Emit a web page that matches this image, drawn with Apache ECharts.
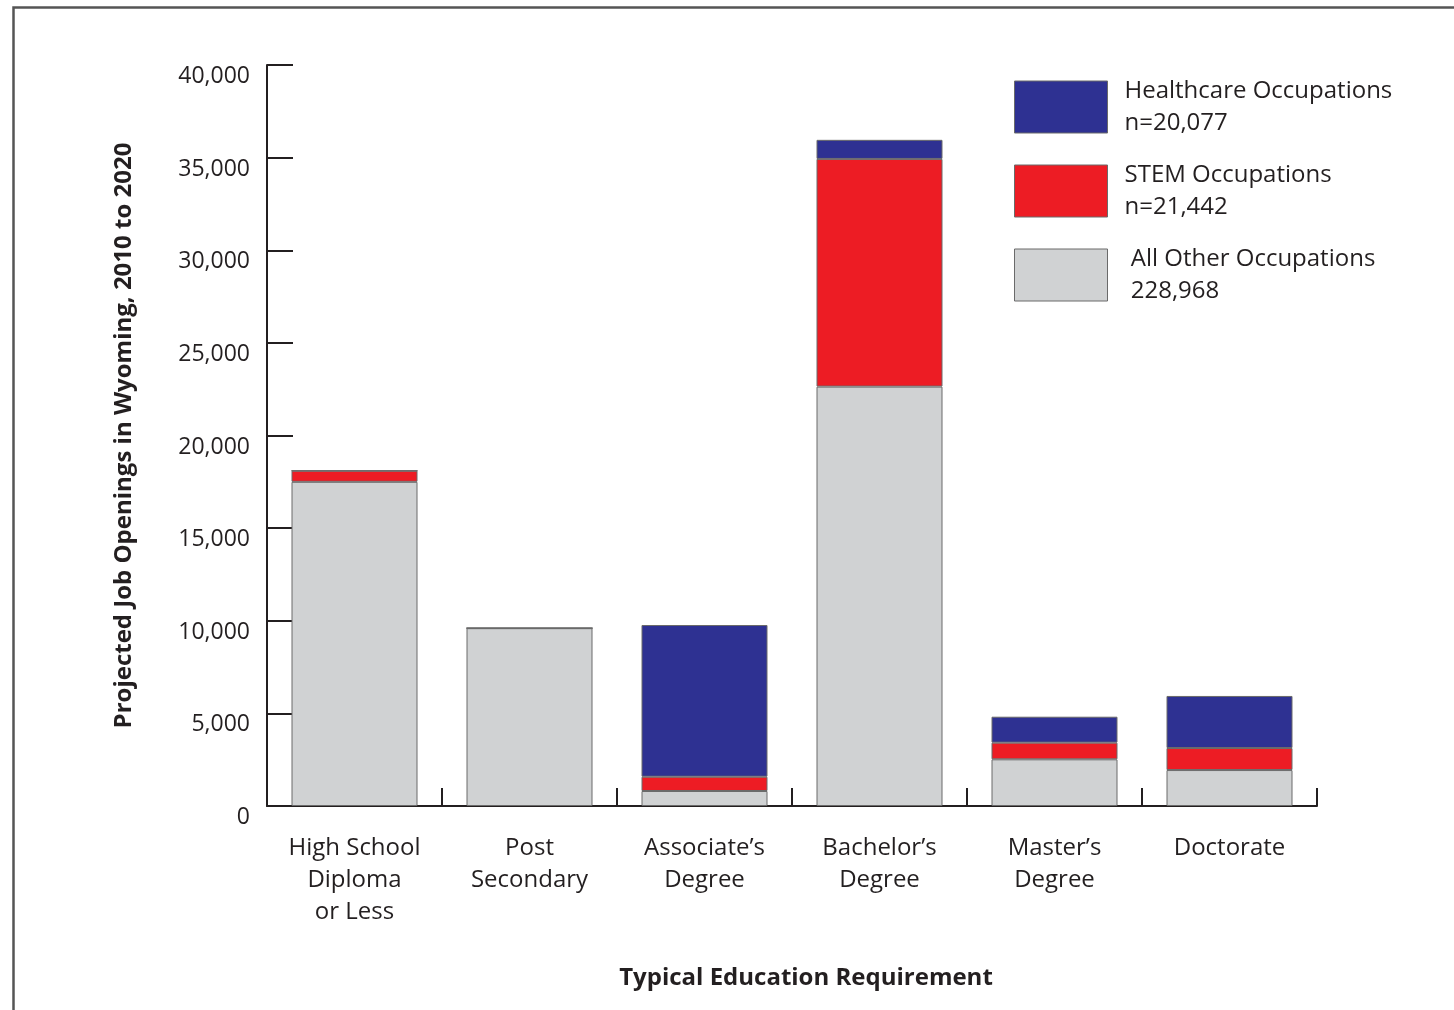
<!DOCTYPE html>
<html>
<head>
<meta charset="utf-8">
<script src="https://cdn.jsdelivr.net/npm/echarts@6/dist/echarts.min.js"></script>
<style>html,body{margin:0;padding:0;background:#fff}#c{width:1454px;height:1010px}</style>
</head>
<body>
<div id="c"></div>
<script>
const categories = ['High School\nDiploma\nor Less', 'Post\nSecondary', 'Associate’s\nDegree', 'Bachelor’s\nDegree', 'Master’s\nDegree', 'Doctorate'];
const otherValues = [17500, 9600, 810, 22640, 2520, 1940];
const stemValues = [600, 0, 770, 12290, 900, 1190];
const healthValues = [0, 0, 8190, 1030, 1400, 2810];
const yTicks = [0, 5000, 10000, 15000, 20000, 25000, 30000, 35000, 40000];
const legendLabels = {
  'Healthcare Occupations': 'Healthcare Occupations\nn=20,077',
  'STEM Occupations': 'STEM Occupations\nn=21,442',
  'All Other Occupations': ' All Other Occupations\n 228,968'
};

const FONT = 'Open Sans';
const chart = echarts.init(document.getElementById('c'), null, {renderer: 'canvas'});
const barCommon = {
  type: 'bar', stack: 'total', barWidth: '72%',
  itemStyle: {borderColor: '#6a6a6a', borderWidth: 1}
};
chart.setOption({
  animation: false,
  backgroundColor: '#ffffff',
  graphic: [{
    type: 'rect', left: 11, top: 5, silent: true,
    shape: {width: 1460, height: 1020},
    style: {fill: 'none', stroke: '#555555', lineWidth: 2.5}
  }],
  grid: {left: 267, right: 137, top: 65, bottom: 204, containLabel: false},
  legend: {
    left: 1009, top: 70, orient: 'vertical', icon: 'rect',
    itemWidth: 93, itemHeight: 52, itemGap: 20,
    data: ['Healthcare Occupations', 'STEM Occupations', 'All Other Occupations'],
    formatter: n => legendLabels[n],
    textStyle: {fontFamily: FONT, fontSize: 24, color: '#231f20', lineHeight: 32, padding: [0, 0, 0, 12]},
    itemStyle: {borderColor: '#6a6a6a', borderWidth: 1},
    selectedMode: false
  },
  xAxis: {
    type: 'category', data: categories,
    name: 'Typical Education Requirement', nameLocation: 'middle', nameGap: 160,
    nameTextStyle: {fontFamily: FONT, fontSize: 24, fontWeight: 'bold', color: '#231f20', padding: [0, 0, 0, 28]},
    axisLine: {lineStyle: {color: '#231f20', width: 2}},
    axisTick: {show: true, inside: true, length: 18, alignWithLabel: false, lineStyle: {color: '#231f20', width: 2}},
    axisLabel: {fontFamily: FONT, fontSize: 24, color: '#231f20', lineHeight: 32, margin: 26, interval: 0}
  },
  yAxis: {
    type: 'value', min: 0, max: 40000, interval: 5000,
    name: 'Projected Job Openings in Wyoming, 2010 to 2020', nameLocation: 'middle', nameGap: 131, nameRotate: 90,
    nameTextStyle: {fontFamily: FONT, fontSize: 24, fontWeight: 'bold', color: '#231f20'},
    axisLine: {show: true, lineStyle: {color: '#231f20', width: 2}},
    axisTick: {show: true, inside: true, length: 26, lineStyle: {color: '#231f20', width: 2}},
    splitLine: {show: false},
    axisLabel: {
      fontFamily: FONT, fontSize: 23, color: '#231f20', margin: 17,
      verticalAlign: 'top',
      formatter: v => yTicks.includes(v) ? v.toLocaleString('en-US') : ''
    }
  },
  series: [
    Object.assign({}, barCommon, {name: 'All Other Occupations', data: otherValues, itemStyle: Object.assign({}, barCommon.itemStyle, {color: '#d0d2d3'})}),
    Object.assign({}, barCommon, {name: 'STEM Occupations', data: stemValues, itemStyle: Object.assign({}, barCommon.itemStyle, {color: '#ed1c24'})}),
    Object.assign({}, barCommon, {name: 'Healthcare Occupations', data: healthValues, itemStyle: Object.assign({}, barCommon.itemStyle, {color: '#2e3192'})})
  ]
});
</script>
</body>
</html>
